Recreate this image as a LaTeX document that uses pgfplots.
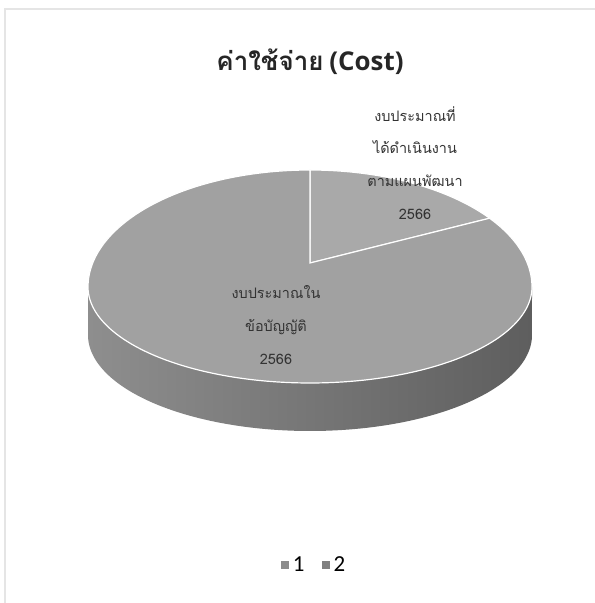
\documentclass[border=0pt]{standalone}
\usepackage{fontspec}
\setmainfont{Carlito}
\newfontfamily\thaifont[Script=Thai]{Loma}
\newfontfamily\osans{Open Sans}
\usepackage{pgfplots}
\usepackage{pgfplotstable}
\pgfplotsset{compat=1.18}
\definecolor{sliceA}{HTML}{A9A9A9}
\definecolor{sliceB}{HTML}{A1A1A1}
\definecolor{sideL}{HTML}{8E8E8E}
\definecolor{sideM}{HTML}{7A7A7A}
\definecolor{sideR}{HTML}{5E5E5E}
\definecolor{labelc}{HTML}{333333}
\definecolor{titlec}{HTML}{262626}

\pgfplotstableread{
cat value
1 15
2 85
}\piedata

\begin{document}%
\begin{tikzpicture}
\pgfplotstablegetelem{0}{value}\of\piedata \pgfmathsetmacro\va{\pgfplotsretval}
\pgfplotstablegetelem{1}{value}\of\piedata \pgfmathsetmacro\vb{\pgfplotsretval}
\pgfmathsetmacro\fa{\va/(\va+\vb)}
\pgfmathsetmacro\fb{\vb/(\va+\vb)}
\pgfmathsetmacro\angA{90}
\pgfmathsetmacro\angB{90-360*\fa}
\pgfmathsetmacro\angC{\angB-360*\fb}
\def\cx{310}\def\cy{316}\def\ra{222}\def\rt{117}\def\rb{96}\def\dep{48}
\def\px{310}\def\py{340}
\fill[white] (0,0) rectangle (595bp,603bp);
\begin{axis}[
  scale only axis, width=595bp, height=603bp,
  xmin=0,xmax=595,ymin=0,ymax=603,
  hide axis, clip=false,
  legend columns=2,
  legend style={at={(axis cs:314,38)}, anchor=center, draw=none, fill=none,
    font=\fontsize{23}{25}\selectfont,
    /tikz/every even column/.append style={column sep=15bp}},
]
% faint scan frame
\draw[black!10, line width=1.5bp] (axis cs:5,0) -- (axis cs:5,594) -- (axis cs:595,594);
% side of the pie
\addplot[forget plot, draw=none, left color=sideL, middle color=sideM, right color=sideR,
  domain=180:540, samples=361, variable=\t]
 ({\cx+\ra*cos(\t)}, {(\t<=360) ? (\cy+\rb*sin(\t)) : (\cy-\rb*sin(\t)-\dep)}) -- cycle;
% slice 1
\addplot[fill=sliceA, draw=white, line width=1.2pt, domain=\angB:\angA, samples=60, variable=\t,
  legend image code/.code={\path (0bp,0bp) -- (9bp,0bp);\fill[black!45] (0bp,-3.5bp) rectangle (7bp,3.5bp);}]
 ({\cx+\ra*cos(\t)}, {\cy+\rt*sin(\t)}) -- (axis cs:\px,\py) -- cycle;
\addlegendentry{1}
% slice 2
\addplot[fill=sliceB, draw=white, line width=1.2pt, domain=\angC:\angB, samples=240, variable=\t,
  legend image code/.code={\path (0bp,0bp) -- (9bp,0bp);\fill[black!50] (0bp,-3.5bp) rectangle (7bp,3.5bp);}]
 ({\cx+\ra*cos(\t)}, {(sin(\t)>=0) ? (\cy+\rt*sin(\t)) : (\cy+\rb*sin(\t))}) -- (axis cs:\px,\py) -- cycle;
\addlegendentry{2}
% title
\node[text=titlec] at (axis cs:310,541)
  {\fontsize{26}{30}\selectfont\bfseries{\thaifont ค่าใช้จ่าย} {\osans\bfseries (Cost)}};
% data labels
\node[align=center, text=labelc, font=\thaifont\fontsize{14.5}{33}\selectfont] at (axis cs:415,440)
  {งบประมาณที่\\ได้ดำเนินงาน\\ตามแผนพัฒนา\\2566};
\node[align=center, text=labelc, font=\thaifont\fontsize{14.5}{33}\selectfont] at (axis cs:276,278)
  {งบประมาณใน\\ข้อบัญญัติ\\2566};
\end{axis}
\pgfresetboundingbox
\path[use as bounding box] (0,0) rectangle (595bp,603bp);
\end{tikzpicture}%
\end{document}
